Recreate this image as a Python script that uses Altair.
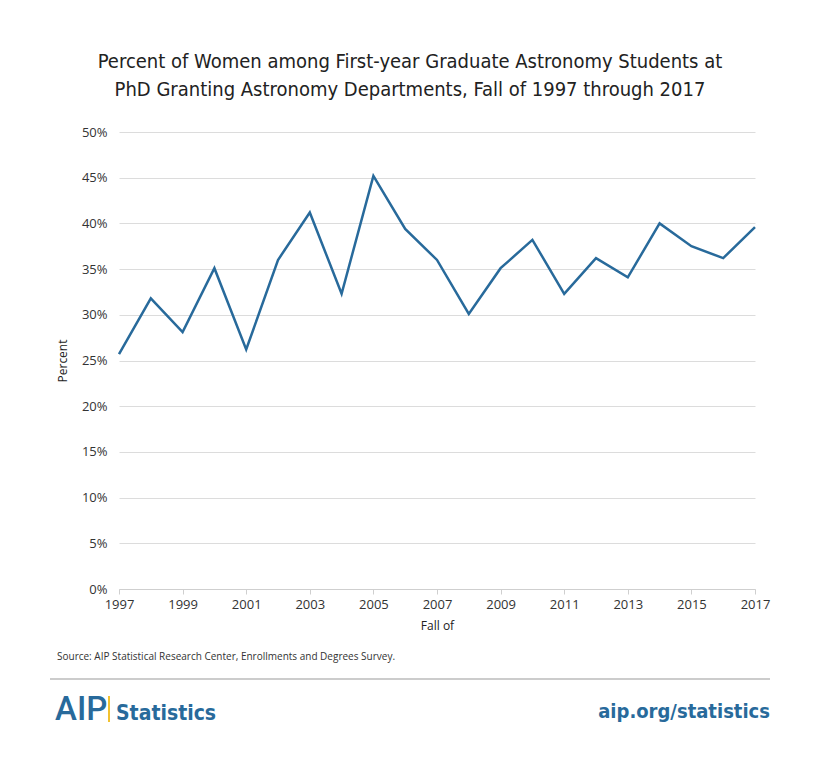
import altair as alt
import pandas as pd

years = list(range(1997, 2018))
percent = [25.7, 31.8, 28.1, 35.1, 26.2, 36.0, 41.2, 32.3, 45.2, 39.4, 36.0,
           30.1, 35.1, 38.2, 32.3, 36.2, 34.1, 40.0, 37.5, 36.2, 39.6]
x_ticks = list(range(1997, 2018, 2))
y_ticks = [0, 5, 10, 15, 20, 25, 30, 35, 40, 45, 50]

title_lines = ["Percent of Women among First-year Graduate Astronomy Students at",
               "PhD Granting Astronomy Departments, Fall of 1997 through 2017"]
source_text = "Source: AIP Statistical Research Center, Enrollments and Degrees Survey."

df = pd.DataFrame({"year": years, "pct": percent})

W, H = 636, 457
BLUE = "#286a9b"
COND = "'DejaVu Sans Condensed', 'Roboto', sans-serif"

line = alt.Chart(df).mark_line(color=BLUE, strokeWidth=2.5).encode(
    x=alt.X("year:Q",
            scale=alt.Scale(domain=[1997, 2017], nice=False, zero=False),
            axis=alt.Axis(values=x_ticks, format="d", title="Fall of",
                          grid=False, domain=True, domainColor="#cfcfcf",
                          ticks=True, tickColor="#cfcfcf", tickSize=5,
                          labelFlush=False, labelPadding=4, titlePadding=9)),
    y=alt.Y("pct:Q",
            scale=alt.Scale(domain=[0, 50], nice=False),
            axis=alt.Axis(values=y_ticks, labelExpr="datum.value + '%'",
                          title="Percent", grid=True, gridColor="#dcdcdc",
                          domain=False, ticks=False, labelPadding=12,
                          titlePadding=12)),
)

src = alt.Chart(pd.DataFrame({"t": [source_text]})).mark_text(
    align="left", baseline="middle", fontSize=10, font="Open Sans", color="#333333"
).encode(x=alt.value(-62), y=alt.value(525), text="t:N")

rule = alt.Chart(pd.DataFrame({"a": [0]})).mark_rule(
    color="#9a9a9a", strokeWidth=1.2
).encode(x=alt.value(-69), x2=alt.value(651), y=alt.value(547))

aip = alt.Chart(pd.DataFrame({"t": ["AIP"]})).mark_text(
    align="left", baseline="alphabetic", fontSize=33, font="Roboto",
    fontWeight=500, color=BLUE
).encode(x=alt.value(-64), y=alt.value(588), text="t:N")

bar = alt.Chart(pd.DataFrame({"a": [0]})).mark_rule(
    color="#f2c230", strokeWidth=2
).encode(x=alt.value(-10), y=alt.value(564), y2=alt.value(590))

stats = alt.Chart(pd.DataFrame({"t": ["Statistics"]})).mark_text(
    align="left", baseline="alphabetic", fontSize=21, font=COND,
    fontWeight="bold", color=BLUE
).encode(x=alt.value(-3), y=alt.value(588), text="t:N")

url = alt.Chart(pd.DataFrame({"t": ["aip.org/statistics"]})).mark_text(
    align="right", baseline="alphabetic", fontSize=20, font=COND,
    fontWeight="bold", color=BLUE
).encode(x=alt.value(651), y=alt.value(586), text="t:N")

chart = alt.layer(line, src, rule, aip, bar, stats, url).properties(
    width=W, height=H,
    autosize=alt.AutoSizeParams(type="none"),
    padding={"left": 111, "top": 124, "right": 57, "bottom": 162},
    title=alt.TitleParams(
        text=title_lines, anchor="middle", dx=-27, offset=26,
        font=COND, fontSize=20, fontWeight="normal",
        color="#222222", lineHeight=28,
    ),
).configure_view(stroke=None).configure_axis(
    labelFont="Open Sans", labelFontSize=13, labelColor="#333333",
    titleFont="Open Sans", titleFontSize=12, titleColor="#222222",
    titleFontWeight="normal",
)

chart.save("out.html", embed_options={"renderer": "svg", "actions": False})
